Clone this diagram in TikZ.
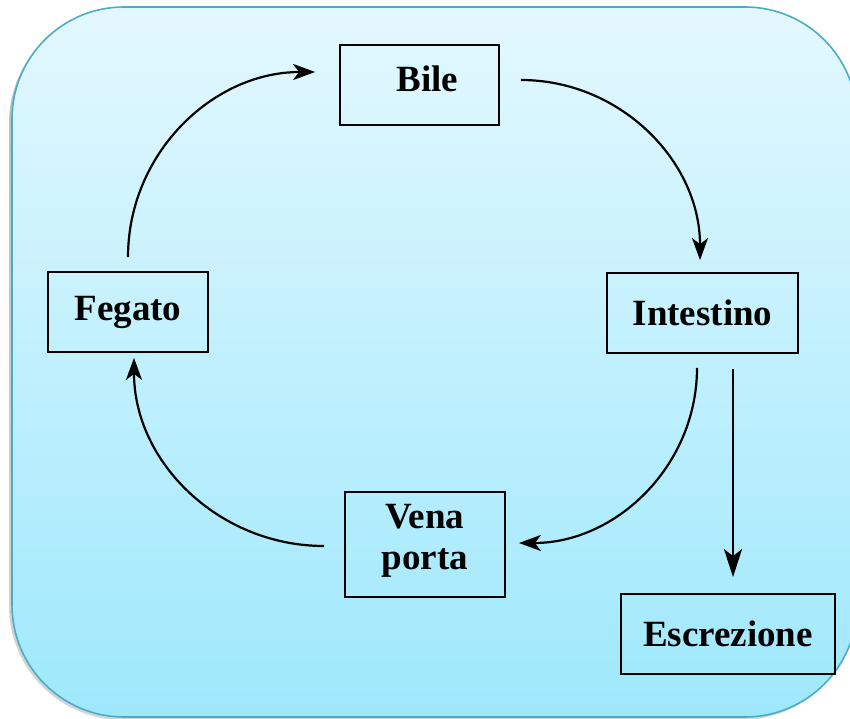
\documentclass[tikz,border=0pt]{standalone}
\usepackage{fontspec}
\setmainfont{Liberation Serif}
\usepackage{tikz}
\usetikzlibrary{arrows.meta,positioning,calc}
\definecolor{bgtop}{HTML}{E3F8FE}
\definecolor{bgbot}{HTML}{9EE8FC}
\definecolor{bgline}{HTML}{4BACC6}
\definecolor{shade}{HTML}{9A9A9A}

\begin{document}
\begin{tikzpicture}[
  x=0.5pt,y=0.5pt,
  every node/.style={font=\fontsize{18.5}{20.5}\selectfont\bfseries,align=center},
  organ/.style={draw=black,line width=0.9pt,minimum height=40pt,inner sep=0pt},
  cycle/.style={-{Stealth[length=11pt,width=8pt,inset=3pt]},line width=1.1pt},
  out arrow/.style={-{Stealth[length=14pt,width=9pt,inset=3.5pt]},line width=1.1pt}
]
\clip (0,0) rectangle (850,718);
% panel
\fill[shade,opacity=0.2,rounded corners=57pt] (9,-2) rectangle (855,709);
\shade[top color=bgtop,bottom color=bgbot,draw=bgline,line width=0.8pt,rounded corners=56pt]
  (12,1) rectangle (857,711);
% organs
\node[organ,minimum width=79.5pt,text depth=6pt] (bile) at (419.5,633) {\hspace*{8pt}Bile};
\node[organ,minimum width=95.5pt] (intestino) at (702.5,405) {Intestino};
\node[organ,minimum width=80pt] (fegato) at (128,406) {Fegato};
\node[organ,minimum width=80pt,minimum height=52.5pt,text depth=8pt] (vena) at (425,173.5) {Vena\\porta};
\node[organ,minimum width=107pt] (escr) at (728,84) {Escrezione};
% cycle
\draw[cycle] ([shift={(0,14)}]fegato.north) to[out=90,in=180] ([shift={(-24,13)}]bile.west);
\draw[cycle] ([shift={(21,5)}]bile.east) to[out=0,in=90] ([shift={(-2.5,12)}]intestino.north);
\draw[cycle] ([shift={(-5.5,-14)}]intestino.south) to[out=-90,in=0] ([shift={(13,1.5)}]vena.east);
\draw[cycle] ([shift={(-20,-1.5)}]vena.west) to[out=180,in=-90] ([shift={(6,-5)}]fegato.south);
\draw[out arrow] ([shift={(30.5,-15)}]intestino.south) -- ([shift={(5,16)}]escr.north);
\end{tikzpicture}
\end{document}
